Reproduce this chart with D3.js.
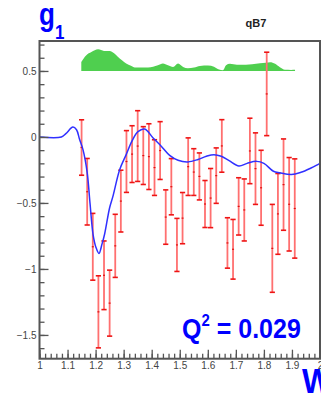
<!DOCTYPE html>
<html>
<head>
<meta charset="utf-8">
<script src="https://cdn.jsdelivr.net/npm/d3@7"></script>
<style>
  body { margin: 0; background: white; }
  svg { display: block; font-family: "Liberation Sans", Arial, sans-serif; }
</style>
</head>
<body>
<div id="chart"></div>
<script>
////////////////////// data //////////////////////

// W bins of the measured points
const wBins = [1.15, 1.17, 1.19, 1.21, 1.23, 1.25, 1.27, 1.29, 1.31, 1.33,
               1.35, 1.37, 1.39, 1.41, 1.43, 1.45, 1.47, 1.49, 1.51, 1.53,
               1.55, 1.57, 1.59, 1.61, 1.63, 1.65, 1.67, 1.69, 1.71, 1.73,
               1.75, 1.77, 1.79, 1.81, 1.83, 1.85, 1.87, 1.89, 1.91];
const g1Values = [-0.08, -0.415, -0.832, -1.325, -1.048, -1.259, -0.825, -0.486, -0.186, -0.13,
                  -0.069, -0.141, -0.149, -0.232, -0.103, -0.607, -0.377, -0.818, -0.615, -0.225,
                  -0.266, -0.299, -0.508, -0.463, -0.293, -0.068, -0.803, -0.851, -0.526, -0.553,
                  -0.106, -0.24, -0.385, 0.326, -0.844, -0.583, -0.361, -0.51, -0.542];
const g1Errors = [0.21, 0.252, 0.253, 0.273, 0.26, 0.25, 0.239, 0.234, 0.234, 0.215,
                  0.268, 0.219, 0.249, 0.211, 0.219, 0.206, 0.213, 0.201, 0.194, 0.218,
                  0.177, 0.178, 0.178, 0.224, 0.21, 0.199, 0.191, 0.226, 0.217, 0.235,
                  0.248, 0.271, 0.284, 0.316, 0.333, 0.306, 0.346, 0.354, 0.376];

// model curve (blue)
const modelW  = [1.0, 1.078, 1.094, 1.119, 1.132, 1.143, 1.155, 1.17, 1.18, 1.191,
                 1.201, 1.212, 1.223, 1.232, 1.25, 1.262, 1.286, 1.309, 1.33, 1.351,
                 1.375, 1.405, 1.434, 1.464, 1.494, 1.529, 1.565, 1.595, 1.622, 1.648,
                 1.676, 1.711, 1.74, 1.774, 1.8, 1.834, 1.857, 1.898, 1.932, 1.968, 2.0];
const modelG1 = [0, 0, 0.025, 0.075, 0.055, -0.02, -0.096, -0.27, -0.5, -0.74,
                 -0.835, -0.883, -0.81, -0.737, -0.536, -0.448, -0.247, -0.134, -0.03, 0.04,
                 0.06, -0.008, -0.07, -0.14, -0.177, -0.189, -0.171, -0.146, -0.134, -0.146,
                 -0.18, -0.22, -0.2, -0.185, -0.2, -0.26, -0.272, -0.285, -0.268, -0.235, -0.2];

// systematic band (green), drawn up from a base line
const sysBase = 0.5;
const sysW   = [1.149, 1.166, 1.185, 1.209, 1.23, 1.25, 1.266, 1.28, 1.294, 1.309,
                1.326, 1.34, 1.387, 1.405, 1.422, 1.44, 1.458, 1.476, 1.494, 1.512,
                1.529, 1.551, 1.572, 1.601, 1.622, 1.64, 1.654, 1.665, 1.679, 1.704,
                1.736, 1.758, 1.786, 1.807, 1.822, 1.84, 1.857, 1.875, 1.897, 1.911];
const sysTop = [0.568, 0.618, 0.643, 0.664, 0.652, 0.651, 0.634, 0.606, 0.581, 0.556,
                0.539, 0.526, 0.526, 0.532, 0.543, 0.556, 0.543, 0.53, 0.556, 0.53,
                0.52, 0.526, 0.538, 0.541, 0.532, 0.511, 0.505, 0.543, 0.554, 0.547,
                0.547, 0.551, 0.558, 0.562, 0.566, 0.554, 0.528, 0.509, 0.508, 0.509];

const yMajorTicks = [-1.5, -1, -0.5, 0, 0.5];
const xMajorTicks = [1, 1.1, 1.2, 1.3, 1.4, 1.5, 1.6, 1.7, 1.8, 1.9, 2];

////////////////////// setup //////////////////////

const width = 321;
const height = 393;
const plot = {left: 39.5, right: 320, top: 41, bottom: 358.7};

const svg = d3.select("#chart")
  .append("svg")
  .attr("width", width)
  .attr("height", height)

const x = d3.scaleLinear().domain([1, 2]).range([plot.left, plot.right])
const y = d3.scaleLinear().domain([-1.68, 0.727]).range([plot.bottom, plot.top])

svg.append("rect")
  .attr("x", plot.left).attr("y", plot.top)
  .attr("width", plot.right - plot.left).attr("height", plot.bottom - plot.top)
  .attr("fill", "white")

////////////////////// green band //////////////////////
const sysData = sysW.map((w, i) => ({w: w, top: sysTop[i]}))
svg.append("path")
  .datum(sysData)
  .attr("fill", "#4fcf4f")
  .attr("d", d3.area()
    .x(d => x(d.w))
    .y0(y(sysBase))
    .y1(d => y(d.top))
    .curve(d3.curveMonotoneX))

////////////////////// error bars //////////////////////
const points = wBins.map((w, i) => ({w: w, v: g1Values[i], e: g1Errors[i]}))
const bars = svg.append("g")
  .selectAll(".ebar")
  .data(points)
  .join("g")
  .classed("ebar", true)
  .attr("transform", d => `translate(${x(d.w)},0)`)

bars.append("line")
  .attr("y1", d => y(d.v + d.e))
  .attr("y2", d => y(d.v - d.e))
  .attr("stroke", "#ff7070")
  .attr("stroke-width", 1.8)
bars.selectAll(".cap")
  .data(d => [d.v + d.e, d.v - d.e])
  .join("line")
  .classed("cap", true)
  .attr("x1", -2.6).attr("x2", 2.6)
  .attr("y1", v => y(v)).attr("y2", v => y(v))
  .attr("stroke", "#ee1414")
  .attr("stroke-width", 1.6)
bars.append("line")
  .attr("x1", -1).attr("x2", 1)
  .attr("y1", d => y(d.v)).attr("y2", d => y(d.v))
  .attr("stroke", "#e01010")
  .attr("stroke-width", 1.2)

////////////////////// model curve //////////////////////
const modelData = modelW.map((w, i) => ({w: w, v: modelG1[i]}))
svg.append("path")
  .datum(modelData)
  .attr("fill", "none")
  .attr("stroke", "#3030ff")
  .attr("stroke-width", 1.5)
  .attr("d", d3.line()
    .x(d => x(d.w))
    .y(d => y(d.v))
    .curve(d3.curveCatmullRom))

////////////////////// axes //////////////////////
const minorY = d3.range(-16, 8).map(k => k / 10)
const minorX = d3.range(0, 51).map(k => 1 + k / 50)

function styleAxis(g) {
  g.select(".domain").remove()
  g.selectAll(".tick line").attr("stroke", "#555").attr("stroke-width", 1.3)
  g.selectAll(".tick text").attr("fill", "#444").attr("font-size", 10)
}

svg.append("g")
  .attr("transform", `translate(${plot.left},0)`)
  .call(d3.axisLeft(y).tickValues(minorY).tickSize(-5).tickFormat(""))
  .call(styleAxis)
svg.append("g")
  .attr("transform", `translate(${plot.left},0)`)
  .call(d3.axisLeft(y).tickValues(yMajorTicks).tickSize(-9).tickPadding(3).tickFormat(d3.format("~g")))
  .call(styleAxis)

svg.append("g")
  .attr("transform", `translate(0,${plot.bottom})`)
  .call(d3.axisBottom(x).tickValues(minorX).tickSize(-5).tickFormat(""))
  .call(styleAxis)
svg.append("g")
  .attr("transform", `translate(0,${plot.bottom})`)
  .call(d3.axisBottom(x).tickValues(xMajorTicks).tickSize(-9).tickPadding(3).tickFormat(d3.format("~g")))
  .call(styleAxis)

// frame
svg.append("rect")
  .attr("x", plot.left).attr("y", plot.top)
  .attr("width", plot.right - plot.left).attr("height", plot.bottom - plot.top)
  .attr("fill", "none")
  .attr("stroke", "#555")
  .attr("stroke-width", 2)

////////////////////// labels //////////////////////
const g1Label = svg.append("text")
  .attr("transform", "translate(39,25) scale(1,1.2)")
  .attr("fill", "#0000ff")
  .attr("font-weight", "bold")
  .attr("font-size", 26)
g1Label.append("tspan").text("g")
g1Label.append("tspan").attr("font-size", 17).attr("dy", 12).text("1")

svg.append("text")
  .attr("x", 256).attr("y", 27)
  .attr("text-anchor", "middle")
  .attr("fill", "#222")
  .attr("font-weight", "bold")
  .attr("font-size", 11)
  .text("qB7")

const qLabel = svg.append("text")
  .attr("transform", "translate(182,338) scale(1,1.12)")
  .attr("fill", "#0000ff")
  .attr("font-weight", "bold")
  .attr("font-size", 25)
qLabel.append("tspan").text("Q")
qLabel.append("tspan").attr("font-size", 15).attr("dy", -11).text("2")
qLabel.append("tspan").attr("dy", 11).text(" = 0.029")

svg.append("text")
  .attr("transform", "translate(302,393) scale(1,1.1)")
  .attr("fill", "#0000ff")
  .attr("font-weight", "bold")
  .attr("font-size", 32)
  .text("W")
</script>
</body>
</html>
